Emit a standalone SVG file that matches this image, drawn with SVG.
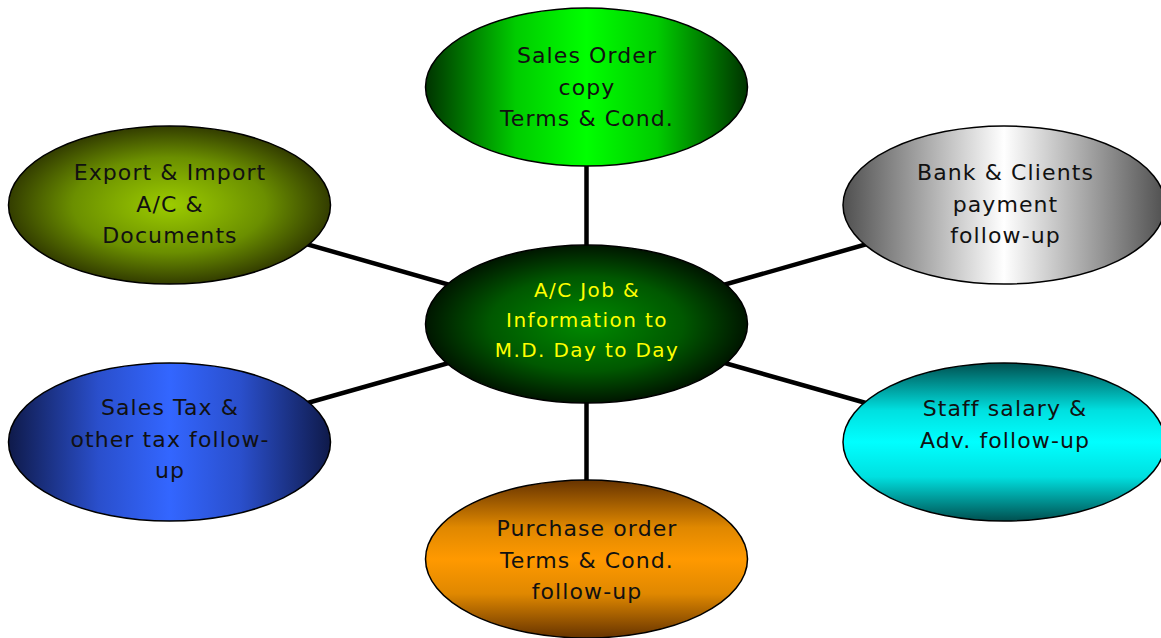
<svg xmlns="http://www.w3.org/2000/svg" width="1161" height="638" viewBox="0 0 1161 638">
<style>
.node ellipse{stroke:#000;stroke-width:1.5}
.lbl{font-family:"DejaVu Sans",Verdana,sans-serif;font-size:22px;letter-spacing:1.1px;fill:#111;text-anchor:middle}
.ctr{fill:#ffff00;font-size:20px;letter-spacing:1.4px}
.conn line{stroke:#000;stroke-width:4.5}
</style>
<defs>
<linearGradient id="gGreen" x1="0" y1="0" x2="1" y2="0">
<stop offset="0" stop-color="#003300"/><stop offset="0.28" stop-color="#00cc00"/><stop offset="0.5" stop-color="#00ff00"/><stop offset="0.72" stop-color="#00cc00"/><stop offset="1" stop-color="#003300"/>
</linearGradient>
<radialGradient id="gOlive" cx="0.5" cy="0.5" r="0.5">
<stop offset="0" stop-color="#9ccc00"/><stop offset="0.6" stop-color="#6b8f00"/><stop offset="1" stop-color="#333d00"/>
</radialGradient>
<linearGradient id="gGrey" x1="0" y1="0" x2="1" y2="0">
<stop offset="0" stop-color="#505050"/><stop offset="0.5" stop-color="#ffffff"/><stop offset="1" stop-color="#505050"/>
</linearGradient>
<radialGradient id="gCenter" cx="0.5" cy="0.5" r="0.5">
<stop offset="0" stop-color="#008a00"/><stop offset="0.6" stop-color="#005800"/><stop offset="1" stop-color="#001600"/>
</radialGradient>
<linearGradient id="gBlue" x1="0" y1="0" x2="1" y2="0">
<stop offset="0" stop-color="#0f1a4a"/><stop offset="0.28" stop-color="#2a4fcc"/><stop offset="0.5" stop-color="#3366ff"/><stop offset="0.72" stop-color="#2a4fcc"/><stop offset="1" stop-color="#0f1a4a"/>
</linearGradient>
<linearGradient id="gCyan" x1="0" y1="0" x2="0" y2="1">
<stop offset="0" stop-color="#005050"/><stop offset="0.3" stop-color="#00e0e0"/><stop offset="0.5" stop-color="#00ffff"/><stop offset="0.72" stop-color="#00e0e0"/><stop offset="1" stop-color="#005050"/>
</linearGradient>
<linearGradient id="gOrange" x1="0" y1="0" x2="0" y2="1">
<stop offset="0" stop-color="#663300"/><stop offset="0.3" stop-color="#e08800"/><stop offset="0.5" stop-color="#ff9900"/><stop offset="0.72" stop-color="#e08800"/><stop offset="1" stop-color="#663300"/>
</linearGradient>
</defs>
<rect width="1161" height="638" fill="#ffffff"/>
<g id="connectors" class="conn">
<line x1="586.5" y1="324" x2="586.5" y2="87"/>
<line x1="586.5" y1="324" x2="586.5" y2="559"/>
<line x1="586.5" y1="324" x2="169.5" y2="205"/>
<line x1="586.5" y1="324" x2="169.5" y2="442"/>
<line x1="586.5" y1="324" x2="1004" y2="205"/>
<line x1="586.5" y1="324" x2="1004" y2="442"/>
</g>
<g id="node-sales-order" class="node">
<ellipse cx="586.5" cy="87" rx="161" ry="79" fill="url(#gGreen)"/>
<text class="lbl" x="587" y="63">Sales Order</text>
<text class="lbl" x="587" y="94.5">copy</text>
<text class="lbl" x="587" y="126">Terms &amp; Cond.</text>
</g>
<g id="node-export" class="node">
<ellipse cx="169.5" cy="205" rx="161" ry="79" fill="url(#gOlive)"/>
<text class="lbl" x="170" y="180">Export &amp; Import</text>
<text class="lbl" x="170" y="211.5">A/C &amp;</text>
<text class="lbl" x="170" y="243">Documents</text>
</g>
<g id="node-bank" class="node">
<ellipse cx="1004" cy="205" rx="161" ry="79" fill="url(#gGrey)"/>
<text class="lbl" x="1005.5" y="180">Bank &amp; Clients</text>
<text class="lbl" x="1005.5" y="211.5">payment</text>
<text class="lbl" x="1005.5" y="243">follow-up</text>
</g>
<g id="node-center" class="node">
<ellipse cx="586.5" cy="324" rx="161" ry="79" fill="url(#gCenter)"/>
<text class="lbl ctr" x="587" y="297">A/C Job &amp;</text>
<text class="lbl ctr" x="587" y="327">Information to</text>
<text class="lbl ctr" x="587" y="357">M.D. Day to Day</text>
</g>
<g id="node-sales-tax" class="node">
<ellipse cx="169.5" cy="442" rx="161" ry="79" fill="url(#gBlue)"/>
<text class="lbl" x="170" y="415">Sales Tax &amp;</text>
<text class="lbl" x="170" y="447">other tax follow-</text>
<text class="lbl" x="170" y="478">up</text>
</g>
<g id="node-staff" class="node">
<ellipse cx="1004" cy="442" rx="161" ry="79" fill="url(#gCyan)"/>
<text class="lbl" x="1005" y="416">Staff salary &amp;</text>
<text class="lbl" x="1005" y="448">Adv. follow-up</text>
</g>
<g id="node-purchase" class="node">
<ellipse cx="586.5" cy="559" rx="161" ry="79" fill="url(#gOrange)"/>
<text class="lbl" x="587" y="536">Purchase order</text>
<text class="lbl" x="587" y="567.5">Terms &amp; Cond.</text>
<text class="lbl" x="587" y="599">follow-up</text>
</g>
</svg>
